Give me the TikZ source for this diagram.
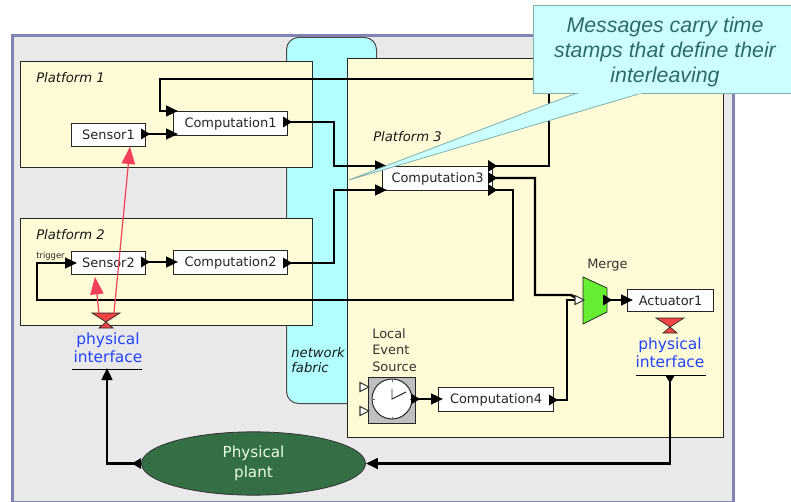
\documentclass[tikz,border=0pt]{standalone}
\usepackage{fontspec}
\setmainfont{DejaVu Sans}
\newfontfamily\calloutfont{Liberation Sans}
\usetikzlibrary{arrows.meta,calc,shapes.geometric}
\definecolor{framec}{HTML}{8383B5}
\definecolor{bggray}{HTML}{E9E9E9}
\definecolor{fabricc}{HTML}{B2FFFF}
\definecolor{platc}{HTML}{FFFBD6}
\definecolor{calloutc}{HTML}{CCFFFF}
\definecolor{calloutb}{HTML}{7FAFAF}
\definecolor{calloutt}{HTML}{2F6A6A}
\definecolor{redc}{HTML}{F0405A}
\definecolor{hourc}{HTML}{EE4444}
\definecolor{bluet}{HTML}{2244FF}
\definecolor{plantc}{HTML}{336E45}
\definecolor{mergec}{HTML}{66EE33}
\tikzset{
  x=0.75pt,y=-0.75pt,
  region/.style={draw=black!85,line width=0.75pt,fill=platc,anchor=north west,inner sep=0pt},
  block/.style={draw=black!85,line width=0.75pt,fill=white,anchor=north west,inner sep=0pt,font=\fontsize{9.7}{11}\selectfont,text=black!85},
  conn/.style={line width=1.8pt,black,-{Triangle[length=9pt,width=8pt]}},
  plainconn/.style={line width=1.8pt,black},
  redarrow/.style={draw=redc,line width=0.9pt,-{Triangle[length=13pt,width=10pt]}},
  lbl/.style={font=\fontsize{9.9}{11}\selectfont\itshape,text=black!90,anchor=west,inner sep=0pt},
  plbl/.style={font=\fontsize{9.7}{11}\selectfont,text=black!80,anchor=west,inner sep=0pt},
  physif/.style={font=\fontsize{11.6}{13.3}\selectfont,text=bluet,align=center,inner sep=0pt},
  hour/.style={fill=hourc,draw=black!85,line width=0.5pt},
  hollow/.style={fill=white,draw=black!80,line width=0.8pt},
}
\newcommand{\oport}[1]{\fill[black] ($(#1)+(-4,-5.5)$)--($(#1)+(5,0)$)--($(#1)+(-4,5.5)$)--cycle;}
\newcommand{\hportin}[1]{\draw[hollow] ($(#1)+(-5,-4.5)$)--($(#1)+(4,0)$)--($(#1)+(-5,4.5)$)--cycle;}
\newcommand{\hourglass}[2]{%
  \path[hour] (#1-14,#2)--(#1+14,#2)--(#1,#2+9)--cycle;
  \path[hour] (#1,#2+9)--(#1+7,#2+15)--(#1-7,#2+15)--cycle;}
\begin{document}
\begin{tikzpicture}
\useasboundingbox (0,0) rectangle (791,502);
\clip (0,0) rectangle (791,502);
\node[draw=framec,line width=2.2pt,fill=bggray,anchor=north west,inner sep=0pt,minimum width=541pt,minimum height=350pt] (frame) at (11,34) {};
\node[draw=black!70,line width=0.75pt,fill=fabricc,rounded corners=9pt,anchor=north west,inner sep=0pt,minimum width=67.5pt,minimum height=274.5pt] (fabric) at (286,37) {};
\node[region,minimum width=219pt,minimum height=79.5pt] (p1) at (20,61) {};
\node[region,minimum width=219pt,minimum height=80.25pt] (p2) at (20,218) {};
\node[region,minimum width=282pt,minimum height=284.25pt] (p3) at (347,58) {};
\node[lbl] (p1l) at (36,78) {Platform 1};
\node[lbl] (p2l) at (36,235) {Platform 2};
\node[lbl] (p3l) at (373,137) {Platform 3};
\node[lbl,align=left,font=\fontsize{9.9}{11.3}\selectfont\itshape] (fabl) at (291,360) {network\\fabric};
\node[block,minimum width=55.5pt,minimum height=17pt] (s1) at (71,123) {Sensor1};
\node[block,minimum width=85.5pt,minimum height=18pt] (c1) at (173,111) {Computation1};
\node[block,minimum width=55.5pt,minimum height=17pt] (s2) at (71,251) {Sensor2};
\node[block,minimum width=85.5pt,minimum height=18pt] (c2) at (173,250) {Computation2};
\node[block,minimum width=82.5pt,minimum height=18pt] (c3) at (382,166) {Computation3};
\node[block,minimum width=86.25pt,minimum height=18pt] (c4) at (438,387) {Computation4};
\node[block,minimum width=64.5pt,minimum height=16.5pt] (a1) at (627,289) {Actuator1};
\node[font=\fontsize{6.3}{7}\selectfont,text=black!85,inner sep=0pt,anchor=west] (trig) at (36,256) {trigger};
\node[plbl,align=left,font=\fontsize{9.7}{12.2}\selectfont] (lesl) at (372,350) {Local\\Event\\Source};
\node[plbl] (mergel) at (587,265) {Merge};
% clock
\node[draw=black!85,line width=0.75pt,fill=black!25,anchor=north west,inner sep=0pt,minimum width=35.25pt,minimum height=34.5pt] (clk) at (368,377) {};
\node[circle,draw=black!85,line width=0.75pt,fill=white,inner sep=0pt,minimum size=30pt] (dial) at (392,399) {};
\draw[black!60,line width=0.6pt] (dial.north)--++(0,3) (dial.south)--++(0,-3) (dial.east)--++(-3,0) (dial.west)--++(3,0);
\draw[black!85,line width=0.7pt] (392,389)--(dial.center)--(406,392);
\coordinate (ci1) at (365,387); \coordinate (ci2) at (365,411);
\hportin{ci1}\hportin{ci2}
% merge
\path[fill=mergec,draw=black!85,line width=0.6pt] (583,277)--(607,288)--(607,312)--(583,324)--cycle;
\coordinate (mi) at (580,300);
\coordinate (mo) at (607,300);
% plant
\node[ellipse,draw=black!80,line width=0.6pt,fill=plantc,inner sep=0pt,minimum width=168pt,minimum height=47.5pt,text=white!90!green,align=center,font=\fontsize{11.4}{15}\selectfont] (plant) at (253.5,463.5) {Physical\\plant};
% physical interfaces
\hourglass{106}{313}
\hourglass{670}{318}
\node[physif] (pi1) at (108,347.5) {physical\\interface};
\node[physif] (pi2) at (670,353) {physical\\interface};
\coordinate (b1l) at (72,369); \coordinate (b1r) at (142,369);
\coordinate (b2l) at (636,375); \coordinate (b2r) at (706,375);
\draw[black,line width=0.75pt] (b1l)--(b1r);
\draw[black,line width=0.75pt] (b2l)--(b2r);
% connector coordinates
\coordinate (s1o) at (145,134); \coordinate (c1o) at (287,122);
\coordinate (s2o) at (145,262); \coordinate (c2o) at (287,263);
\coordinate (c3oa) at (492,166); \coordinate (c3ob) at (492,178); \coordinate (c3oc) at (492,190);
\coordinate (c1ia) at (178,111); \coordinate (c1ib) at (178,134);
\coordinate (c2i) at (178,262); \coordinate (s2i) at (77,263);
\coordinate (c3ia) at (387,166); \coordinate (c3ib) at (387,190);
\coordinate (c4i) at (443,399); \coordinate (clko) at (415,399); \coordinate (c4o) at (553,400);
\coordinate (a1i) at (633,300);
\coordinate (pi1a) at (107,368); \coordinate (pi2a) at (670,375);
% connectors
\draw[conn] (s1o)--(c1ib);
\draw[conn] (s2o)--(c2i);
\draw[plainconn] (c3oa)--(549,166)--(549,79)--(160,79)--(160,111)--(170,111);
\draw[conn] (170,111)--(c1ia);
\draw[conn] (c1o)--(334,122)--(334,166)--(c3ia);
\draw[conn] (c2o)--(334,263)--(334,190)--(c3ib);
\draw[conn] (c3oc)--(513,190)--(513,300)--(37,300)--(37,263)--(s2i);
\draw[plainconn] (c3ob)--(535,178)--(535,295)--(571,295)--(576,298);
\draw[plainconn] (c4o)--(567,400)--(567,300)--(576,300);
\draw[conn] (clko)--(c4i);
\draw[conn] (mo)--(a1i);
\draw[conn] (plant.west)--(107,463.5)--(pi1a);
\draw[conn] (pi2a)--(670,463.5)--(plant.east);
\hportin{mi}
% output ports
\oport{s1o}\oport{c1o}\oport{s2o}\oport{c2o}\oport{clko}\oport{c4o}\oport{mo}
\fill[black] (488,160)--(497,166)--(488,172)--cycle;
\fill[black] (488,172)--(497,178)--(488,184)--cycle;
\fill[black] (488,184)--(497,190)--(488,196)--cycle;
\fill[black] ($(plant.west)+(0,-5.5)$)--(132,463.5)--($(plant.west)+(0,5.5)$)--cycle;
\fill[black] (665,375)--(675,375)--(670,383)--cycle;
% red arrows
\draw[redarrow] (114,313)--(s1.south-|130,146);
\draw[redarrow] (99,313)--(95,277);
% callout
\path[fill=calloutc,draw=calloutb,line width=0.6pt] (577,93)--(349,180)--(642,93);
\node[fill=calloutc,draw=calloutb,line width=0.9pt,anchor=north west,inner sep=0pt,minimum width=200pt,minimum height=66pt] (cbox) at (533,5) {};
\path[fill=calloutc] (578,91)--(641,91)--(641,94)--(578,94)--cycle;
\node[font=\calloutfont\fontsize{16}{19.1}\selectfont\itshape,text=calloutt,align=center,inner sep=0pt] (ctext) at (665,52) {Messages carry time\\stamps that define their\\interleaving};
\end{tikzpicture}
\end{document}
